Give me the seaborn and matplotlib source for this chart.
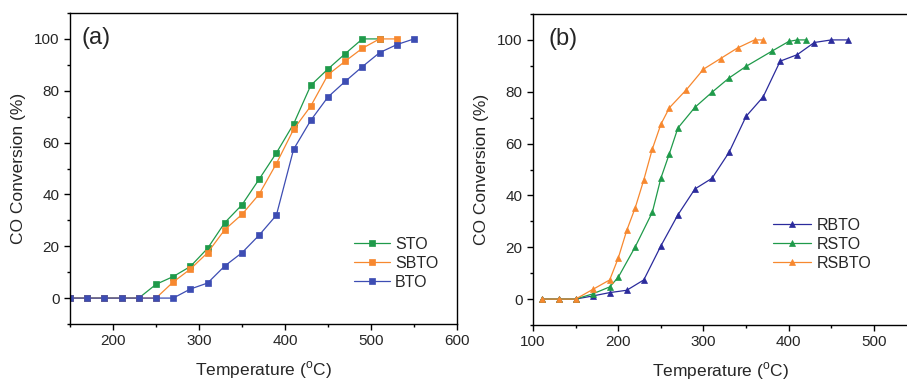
import matplotlib
matplotlib.use("Agg")
import matplotlib.pyplot as plt
from matplotlib.ticker import MultipleLocator
import seaborn as sns
import pandas as pd

# ---------------- data ----------------
# panel (a)
sto_T = [150, 170, 190, 210, 230, 250, 270, 290, 310, 330, 350, 370, 390, 410, 430, 450, 470, 490, 510]
sto_v = [0, 0, 0, 0, 0, 5.3, 8.3, 12.2, 19.2, 29.1, 36, 45.9, 56, 67.2, 82.1, 88.4, 94.3, 100, 100]
sbto_T = [150, 170, 190, 210, 230, 250, 270, 290, 310, 330, 350, 370, 390, 410, 430, 450, 470, 490, 510, 530]
sbto_v = [0, 0, 0, 0, 0, 0, 6.2, 11.2, 17.5, 26.4, 32.3, 40.1, 51.9, 65.1, 74.1, 86.2, 91.4, 96.4, 100, 100]
bto_T = [150, 170, 190, 210, 230, 250, 270, 290, 310, 330, 350, 370, 390, 410, 430, 450, 470, 490, 510, 530, 550]
bto_v = [0, 0, 0, 0, 0, 0, 0, 3.5, 5.8, 12.4, 17.5, 24.3, 32, 57.4, 68.6, 77.6, 83.6, 89.3, 94.7, 97.8, 100]

# panel (b)
rbto_T = [110, 130, 150, 170, 190, 210, 230, 250, 270, 290, 310, 330, 350, 370, 390, 410, 430, 450, 470]
rbto_v = [0, 0, 0, 1.2, 2.5, 3.4, 7.4, 20.5, 32.5, 42.5, 46.6, 56.6, 70.5, 78, 91.8, 94.3, 99, 100, 100]
rsto_T = [110, 130, 150, 170, 190, 200, 220, 240, 250, 260, 270, 290, 310, 330, 350, 380, 400, 410, 420]
rsto_v = [0, 0, 0, 2, 4.7, 8.4, 20.2, 33.5, 46.6, 56.1, 66, 74, 79.8, 85.3, 89.8, 95.6, 99.4, 100, 100]
rsbto_T = [110, 130, 150, 170, 190, 200, 210, 220, 230, 240, 250, 260, 280, 300, 320, 340, 360, 370]
rsbto_v = [0, 0, 0, 3.7, 7.4, 15.8, 26.5, 35.3, 46, 57.9, 67.4, 73.8, 80.8, 88.7, 92.8, 96.9, 100, 100]

series_a = [("STO", sto_T, sto_v), ("SBTO", sbto_T, sbto_v), ("BTO", bto_T, bto_v)]
series_b = [("RBTO", rbto_T, rbto_v), ("RSTO", rsto_T, rsto_v), ("RSBTO", rsbto_T, rsbto_v)]

colors_a = {"STO": "#1f9a4a", "SBTO": "#f7882f", "BTO": "#3d4db3"}
colors_b = {"RBTO": "#2b2b9c", "RSTO": "#1f9a4a", "RSBTO": "#f7882f"}

# ---------------- style ----------------
sns.set_style("ticks")
plt.rcParams["font.family"] = ["Liberation Sans", "DejaVu Sans"]
plt.rcParams["mathtext.fontset"] = "custom"
plt.rcParams["mathtext.rm"] = "Liberation Sans"
plt.rcParams["axes.linewidth"] = 1.0
plt.rcParams["axes.edgecolor"] = "black"

W, H = 907, 383
fig = plt.figure(figsize=(W / 100, H / 100), dpi=100)

def frac(left, top, right, bottom):
    return [left / W, (H - bottom) / H, (right - left) / W, (bottom - top) / H]

ax_a = fig.add_axes(frac(70, 13, 457, 324))
ax_b = fig.add_axes(frac(533, 14, 908, 325))


def draw(ax, series, colors, marker, ms):
    for name, T, v in series:
        df = pd.DataFrame({"T": T, "v": v})
        sns.lineplot(data=df, x="T", y="v", ax=ax, color=colors[name], marker=marker,
                     markersize=ms, linewidth=0.9, markeredgecolor=colors[name],
                     markeredgewidth=0.5, label=name, errorbar=None)


draw(ax_a, series_a, colors_a, "s", 3.8)
draw(ax_b, series_b, colors_b, "^", 4.8)

for ax in (ax_a, ax_b):
    ax.set_ylim(-10, 110)
    ax.yaxis.set_major_locator(MultipleLocator(20))
    ax.yaxis.set_minor_locator(MultipleLocator(10))
    ax.xaxis.set_major_locator(MultipleLocator(100))
    ax.xaxis.set_minor_locator(MultipleLocator(50))
    ax.tick_params(which="major", direction="out", length=4, width=1, labelsize=11, color="black")
    ax.tick_params(which="minor", direction="out", length=2.5, width=1, color="black")
    ax.tick_params(top=False, right=False, which="both")
    for s in ax.spines.values():
        s.set_visible(True)
        s.set_color("black")
        s.set_linewidth(1.0)
    ax.set_xlabel("Temperature ($^{\\mathrm{o}}$C)", fontsize=12.5, labelpad=8)
    ax.set_ylabel("CO Conversion (%)", fontsize=12.5, labelpad=6)

ax_a.set_xlim(150, 600)
ax_b.set_xlim(100, 540)

ax_a.text(0.031, 0.955, "(a)", transform=ax_a.transAxes, fontsize=17, va="top", ha="left")
ax_b.text(0.04, 0.955, "(b)", transform=ax_b.transAxes, fontsize=17, va="top", ha="left")

ax_a.legend(loc="center left", bbox_to_anchor=(0.735, 0.196), frameon=False, fontsize=11.5,
            handlelength=2.2, handletextpad=0.35, labelspacing=0.25, borderpad=0, borderaxespad=0)
ax_b.legend(loc="center left", bbox_to_anchor=(0.64, 0.259), frameon=False, fontsize=11.5,
            handlelength=2.4, handletextpad=0.35, labelspacing=0.25, borderpad=0, borderaxespad=0)

fig.savefig("out.png", dpi=100)
